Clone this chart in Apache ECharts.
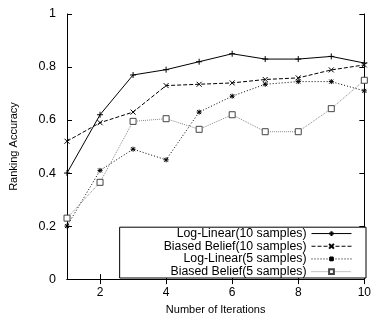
<!DOCTYPE html>
<html><head><meta charset="utf-8">
<script src="https://cdn.jsdelivr.net/npm/echarts@6/dist/echarts.min.js"></script>
<style>html,body{margin:0;padding:0;background:#fff}#c{width:374px;height:320px}</style>
</head><body><div id="c"></div>
<script>
const iterations = [1,2,3,4,5,6,7,8,9,10];
const logLinear10 = [0.40,0.62,0.77,0.79,0.82,0.85,0.83,0.83,0.84,0.815];
const biasedBelief10 = [0.52,0.59,0.63,0.73,0.735,0.74,0.753,0.759,0.789,0.808];
const logLinear5 = [0.20,0.41,0.49,0.45,0.63,0.69,0.735,0.745,0.745,0.71];
const biasedBelief5 = [0.23,0.365,0.595,0.605,0.565,0.62,0.556,0.556,0.643,0.75];
const xTicks = [2,4,6,8,10];
const names = ['Log-Linear(10 samples)','Biased Belief(10 samples)','Log-Linear(5 samples)','Biased Belief(5 samples)'];

const plus = 'path://M0,5H10M5,0V10';
const cross = 'path://M1,1L9,9M1,9L9,1';
const star = 'path://M0,5H10M5,0V10M1,1L9,9M1,9L9,1';
const font = 'Liberation Sans, Arial, sans-serif';

function mk(name, data, symbol, color, type, width, size) {
  return {
    name, type: 'line', data: iterations.map((x,i)=>[x,data[i]]),
    symbol, symbolSize: size,
    lineStyle: {color, type, width},
    itemStyle: {color, borderColor: color, borderWidth: 1},
    emphasis: {disabled: true}, animation: false
  };
}

const chart = echarts.init(document.getElementById('c'));
chart.setOption({
  animation: false,
  grid: {left: 67, right: 8, top: 14, bottom: 37},
  xAxis: [{
    type: 'value', min: 1, max: 10,
    name: 'Number of Iterations', nameLocation: 'middle', nameGap: 22,
    nameTextStyle: {fontFamily: font, fontSize: 11, color: '#000'},
    axisLine: {lineStyle: {color: '#000', width: 1}},
    axisTick: {inside: true, length: 5, customValues: xTicks, lineStyle: {color: '#000'}},
    axisLabel: {customValues: xTicks, fontFamily: font, fontSize: 12, color: '#000', margin: 8},
    splitLine: {show: false}
  },{
    type: 'value', min: 1, max: 10, position: 'top',
    axisLine: {lineStyle: {color: '#000', width: 1}},
    axisTick: {inside: true, length: 5, customValues: xTicks, lineStyle: {color: '#000'}},
    axisLabel: {show: false}, splitLine: {show: false}
  }],
  yAxis: [{
    type: 'value', min: 0, max: 1, interval: 0.2,
    name: 'Ranking Accuracy', nameLocation: 'middle', nameGap: 48, nameRotate: 90,
    nameTextStyle: {fontFamily: font, fontSize: 11, color: '#000'},
    axisLine: {show: true, lineStyle: {color: '#000', width: 1}},
    axisTick: {show: true, inside: true, length: 5, lineStyle: {color: '#000'}},
    axisLabel: {fontFamily: font, fontSize: 12.5, color: '#000', margin: 11,
      formatter: v => String(+v.toFixed(1))},
    splitLine: {show: false}
  },{
    type: 'value', min: 0, max: 1, interval: 0.2, position: 'right',
    axisLine: {show: true, lineStyle: {color: '#000', width: 1}},
    axisTick: {show: true, inside: true, length: 5, lineStyle: {color: '#000'}},
    axisLabel: {show: false}, splitLine: {show: false}
  }],
  legend: {
    orient: 'vertical', align: 'right', right: 8, bottom: 42,
    padding: [0, 14, 0, 44], itemGap: 0, itemWidth: 40, itemHeight: 6,
    borderColor: '#000', borderWidth: 1, backgroundColor: '#fff',
    textStyle: {fontFamily: font, fontSize: 12.3, lineHeight: 12.7, color: '#000'},
    lineStyle: {width: 1},
    data: names
  },
  series: [
    mk(names[0], logLinear10, plus, '#000', 'solid', 1, 6),
    mk(names[1], biasedBelief10, cross, '#000', [4,2], 1, 5),
    mk(names[2], logLinear5, star, '#000', [1,2], 1, 5),
    Object.assign(mk(names[3], biasedBelief5, 'rect', '#888', [1,1], 1, 6),
      {itemStyle: {color: '#fff', borderColor: '#444', borderWidth: 1}})
  ]
});
</script></body></html>
